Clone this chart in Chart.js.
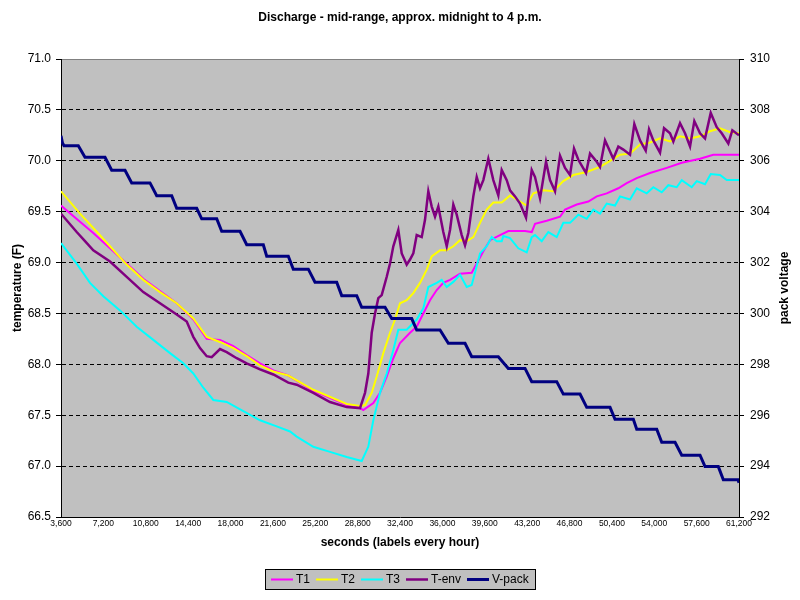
<!DOCTYPE html>
<html>
<head>
<meta charset="utf-8">
<script src="https://cdn.jsdelivr.net/npm/chart.js@4/dist/chart.umd.min.js"></script>
<style>
  html, body { margin: 0; padding: 0; background: #fff; }
  #c { display: block; }
</style>
</head>
<body>
<canvas id="c" width="800" height="600"></canvas>
<script>
// ---------------- DATA ----------------
const chartTitle = 'Discharge - mid-range, approx. midnight to 4 p.m.';
const xTitle = 'seconds (labels every hour)';
const yLeftTitle = 'temperature (F)';
const yRightTitle = 'pack voltage';
const seriesNames = ['T1', 'T2', 'T3', 'T-env', 'V-pack'];

const t1Sec = [3600, 5214, 6344, 7763, 9182, 10592, 12011, 13430, 14840, 15979, 17109, 18239, 19377, 20507, 21637, 22911, 25035, 27873, 29003, 29283, 30133, 30701, 31272, 31832, 32401, 33251, 33820, 34381, 34950, 35520, 36080, 36649, 37499, 38493, 38918, 39479, 40048, 40897, 41603, 43021, 43591, 43871, 44865, 45995, 46420, 47414, 48399, 49113, 49963, 50948, 51662, 52511, 53641, 55060, 56335, 57889, 59019, 61200];
const t1Val = [69.56, 69.40, 69.29, 69.14, 68.99, 68.84, 68.72, 68.60, 68.44, 68.25, 68.24, 68.18, 68.09, 68.01, 67.94, 67.89, 67.74, 67.60, 67.57, 67.55, 67.62, 67.72, 67.88, 68.06, 68.21, 68.31, 68.37, 68.50, 68.63, 68.73, 68.80, 68.83, 68.89, 68.90, 68.99, 69.11, 69.22, 69.27, 69.31, 69.31, 69.30, 69.38, 69.41, 69.45, 69.52, 69.57, 69.60, 69.65, 69.68, 69.73, 69.78, 69.83, 69.88, 69.93, 69.98, 70.02, 70.06, 70.06];

const t2Sec = [3600, 5214, 6344, 7763, 9182, 10592, 12011, 13430, 14840, 15979, 17109, 18239, 19377, 20507, 21637, 22911, 25035, 27873, 29003, 29428, 29997, 30422, 30983, 31552, 31977, 32401, 32970, 33531, 34101, 34670, 35095, 35800, 36369, 36930, 37499, 38068, 38629, 39198, 39768, 40328, 41042, 41747, 42597, 43166, 43726, 44576, 45426, 46275, 47125, 48263, 49393, 50243, 51093, 51942, 52792, 53641, 54491, 55341, 56190, 57040, 57889, 58739, 59589, 60438, 61200];
const t2Val = [69.70, 69.48, 69.34, 69.16, 68.98, 68.83, 68.71, 68.60, 68.45, 68.27, 68.22, 68.16, 68.08, 67.99, 67.93, 67.89, 67.75, 67.61, 67.59, 67.60, 67.72, 67.88, 68.11, 68.31, 68.44, 68.60, 68.63, 68.70, 68.80, 68.93, 69.06, 69.12, 69.12, 69.16, 69.22, 69.21, 69.25, 69.39, 69.52, 69.59, 69.59, 69.66, 69.60, 69.56, 69.68, 69.71, 69.70, 69.80, 69.86, 69.89, 69.94, 70.00, 70.06, 70.07, 70.16, 70.18, 70.22, 70.19, 70.24, 70.22, 70.24, 70.29, 70.32, 70.28, 70.27];

const t3Sec = [3600, 4934, 6064, 7194, 8613, 10031, 11442, 12861, 13991, 14840, 15690, 16539, 17678, 19088, 20507, 21926, 23056, 23625, 25035, 26454, 27873, 29147, 29708, 30133, 30701, 31272, 31832, 32257, 32970, 33820, 34381, 34806, 35520, 35944, 36369, 36930, 37499, 38068, 38493, 39198, 39768, 40192, 40617, 41042, 41178, 41747, 42452, 43166, 43591, 43871, 44440, 45001, 45715, 46275, 46845, 47550, 48263, 48824, 49393, 49963, 50668, 51093, 51942, 52511, 53361, 53922, 54635, 55196, 55910, 56335, 57184, 57609, 58314, 58798, 59589, 60158, 61200];
const t3Val = [69.19, 68.99, 68.80, 68.67, 68.53, 68.37, 68.24, 68.11, 68.01, 67.91, 67.77, 67.65, 67.63, 67.54, 67.45, 67.39, 67.34, 67.29, 67.19, 67.14, 67.09, 67.05, 67.19, 67.45, 67.72, 67.91, 68.14, 68.34, 68.34, 68.44, 68.55, 68.76, 68.80, 68.83, 68.76, 68.81, 68.88, 68.76, 68.78, 69.09, 69.16, 69.25, 69.21, 69.21, 69.26, 69.24, 69.14, 69.10, 69.25, 69.27, 69.21, 69.30, 69.25, 69.39, 69.39, 69.47, 69.43, 69.52, 69.48, 69.58, 69.56, 69.65, 69.62, 69.73, 69.68, 69.74, 69.69, 69.76, 69.74, 69.81, 69.74, 69.80, 69.77, 69.87, 69.86, 69.81, 69.81];

const tEnvSec = [3600, 4934, 5639, 6344, 7763, 9182, 10592, 12011, 13430, 14280, 14840, 15409, 15979, 16403, 17109, 17678, 18528, 19377, 20507, 21637, 22911, 23625, 25035, 26454, 27873, 29003, 29428, 29708, 29997, 30277, 30558, 30847, 31272, 31552, 31832, 32257, 32546, 32970, 33251, 33531, 33820, 34245, 34525, 34806, 35095, 35375, 35655, 36080, 36369, 36649, 36930, 37218, 37643, 37924, 38204, 38629, 38918, 39198, 39479, 39903, 40328, 40753, 41042, 41467, 41747, 42172, 42597, 43106, 43591, 43871, 44296, 44806, 45145, 45570, 45995, 46420, 46845, 47184, 47550, 48204, 48544, 49113, 49393, 49818, 50523, 50948, 51373, 51942, 52308, 52792, 53276, 53556, 53922, 54491, 54831, 55341, 55621, 56190, 56615, 57040, 57405, 57889, 58314, 58798, 59308, 59733, 60294, 60634, 61200];
const tEnvVal = [69.48, 69.30, 69.21, 69.12, 69.01, 68.86, 68.71, 68.60, 68.49, 68.42, 68.27, 68.16, 68.08, 68.07, 68.15, 68.12, 68.06, 68.01, 67.95, 67.90, 67.82, 67.80, 67.72, 67.63, 67.58, 67.57, 67.72, 67.91, 68.31, 68.50, 68.65, 68.68, 68.86, 68.99, 69.16, 69.32, 69.09, 68.98, 69.03, 69.09, 69.27, 69.25, 69.42, 69.70, 69.55, 69.45, 69.55, 69.30, 69.16, 69.32, 69.57, 69.47, 69.27, 69.17, 69.29, 69.65, 69.84, 69.73, 69.81, 70.02, 69.81, 69.66, 69.91, 69.81, 69.71, 69.65, 69.58, 69.44, 69.91, 69.84, 69.63, 69.99, 69.81, 69.70, 70.05, 69.93, 69.86, 70.12, 70.01, 69.88, 70.07, 69.99, 69.94, 70.20, 70.02, 70.14, 70.11, 70.06, 70.36, 70.20, 70.10, 70.31, 70.20, 70.08, 70.32, 70.27, 70.19, 70.37, 70.27, 70.14, 70.39, 70.27, 70.22, 70.47, 70.33, 70.27, 70.17, 70.30, 70.25];

const vPackSec = [3600, 3727, 3855, 5070, 5639, 7338, 7907, 9037, 9607, 11161, 11731, 13005, 13430, 15129, 15554, 16828, 17253, 18808, 19377, 20787, 21076, 22911, 23336, 24611, 25180, 27023, 27448, 28723, 29147, 31127, 31696, 33395, 33820, 35800, 36505, 37924, 38493, 40753, 41602, 43021, 43591, 45715, 46275, 47694, 48263, 50243, 50668, 52223, 52511, 54211, 54635, 55765, 56335, 57889, 58314, 59444, 59869, 61118, 61200];
const vPackVal = [306.98, 306.70, 306.59, 306.59, 306.14, 306.14, 305.63, 305.63, 305.13, 305.13, 304.63, 304.63, 304.13, 304.13, 303.72, 303.72, 303.23, 303.23, 302.70, 302.70, 302.25, 302.25, 301.74, 301.74, 301.23, 301.23, 300.70, 300.70, 300.24, 300.24, 299.80, 299.80, 299.35, 299.35, 298.83, 298.83, 298.30, 298.30, 297.84, 297.84, 297.32, 297.32, 296.83, 296.83, 296.31, 296.31, 295.84, 295.84, 295.45, 295.45, 294.94, 294.94, 294.43, 294.43, 293.98, 293.98, 293.46, 293.46, 293.35];

const xMin = 3600, xMax = 61200, xStep = 3600;
const yLeftMin = 66.5, yLeftMax = 71.0, yLeftStep = 0.5;
const yRightMin = 292, yRightMax = 310, yRightStep = 2;

// ---------------- CHART ----------------
const FONT = '"Liberation Sans", Arial, sans-serif';
Chart.defaults.font.family = FONT;
Chart.defaults.color = '#000';

function pts(xs, ys) { return xs.map((x, i) => ({ x: x, y: ys[i] })); }

const bgPlugin = {
  id: 'plotBg',
  beforeDraw(chart) {
    const { ctx, chartArea: a } = chart;
    ctx.save();
    ctx.fillStyle = '#ffffff';
    ctx.fillRect(0, 0, chart.width, chart.height);
    ctx.fillStyle = '#C0C0C0';
    ctx.fillRect(a.left, a.top, a.right - a.left, a.bottom - a.top);
    ctx.strokeStyle = '#808080';
    ctx.lineWidth = 1;
    ctx.beginPath();
    ctx.moveTo(a.left, a.top + 0.5);
    ctx.lineTo(a.right, a.top + 0.5);
    ctx.stroke();
    ctx.restore();
  }
};

// Secondary axis title, rotated to read bottom-to-top like the primary one
const rightTitlePlugin = {
  id: 'rightTitle',
  afterDraw(chart) {
    const { ctx, chartArea: a } = chart;
    ctx.save();
    ctx.translate(785, (a.top + a.bottom) / 2);
    ctx.rotate(-Math.PI / 2);
    ctx.font = 'bold 12px ' + FONT;
    ctx.fillStyle = '#000';
    ctx.textAlign = 'center';
    ctx.textBaseline = 'middle';
    ctx.fillText(yRightTitle, 0, 0);
    ctx.restore();
  }
};

const legendPlugin = {
  id: 'boxLegend',
  afterDraw(chart) {
    const ctx = chart.ctx;
    const ds = chart.data.datasets;
    ctx.save();
    ctx.font = '12px ' + FONT;
    const lineW = 22, gap = 3, itemGap = 6, pad = 6;
    const widths = ds.map(d => ctx.measureText(d.label).width);
    let total = pad * 2;
    widths.forEach((w, i) => { total += lineW + gap + w + (i < ds.length - 1 ? itemGap : 0); });
    total = Math.round(total);
    const x0 = Math.round(400 - total / 2), y0 = 569, h = 20;
    ctx.fillStyle = '#C0C0C0';
    ctx.fillRect(x0, y0, total, h);
    ctx.strokeStyle = '#000';
    ctx.lineWidth = 1;
    ctx.strokeRect(x0 + 0.5, y0 + 0.5, total, h);
    let x = x0 + pad;
    const yc = y0 + h / 2 + 0.5;
    ds.forEach((d, i) => {
      ctx.strokeStyle = d.borderColor;
      ctx.lineWidth = d.borderWidth;
      ctx.beginPath();
      ctx.moveTo(x, yc);
      ctx.lineTo(x + lineW, yc);
      ctx.stroke();
      ctx.fillStyle = '#000';
      ctx.textBaseline = 'middle';
      ctx.textAlign = 'left';
      ctx.fillText(d.label, x + lineW + gap, yc);
      x += lineW + gap + widths[i] + itemGap;
    });
    ctx.restore();
  }
};

const common = { pointRadius: 0, pointHoverRadius: 0, tension: 0, fill: false };

new Chart(document.getElementById('c'), {
  type: 'line',
  data: {
    datasets: [
      Object.assign({ label: seriesNames[0], data: pts(t1Sec, t1Val), borderColor: '#FF00FF', borderWidth: 2, yAxisID: 'y', order: 5 }, common),
      Object.assign({ label: seriesNames[1], data: pts(t2Sec, t2Val), borderColor: '#FFFF00', borderWidth: 2, yAxisID: 'y', order: 4 }, common),
      Object.assign({ label: seriesNames[2], data: pts(t3Sec, t3Val), borderColor: '#00FFFF', borderWidth: 2, yAxisID: 'y', order: 3 }, common),
      Object.assign({ label: seriesNames[3], data: pts(tEnvSec, tEnvVal), borderColor: '#800080', borderWidth: 2.5, yAxisID: 'y', order: 2 }, common),
      Object.assign({ label: seriesNames[4], data: pts(vPackSec, vPackVal), borderColor: '#000080', borderWidth: 3, yAxisID: 'y2', order: 1 }, common)
    ]
  },
  options: {
    responsive: false,
    animation: false,
    devicePixelRatio: 1,
    parsing: false,
    layout: { padding: 0 },
    plugins: {
      legend: { display: false },
      tooltip: { enabled: false },
      title: {
        display: true,
        text: chartTitle,
        color: '#000',
        font: { family: FONT, size: 12, weight: 'bold' },
        padding: { top: 10, bottom: 34.6 }
      }
    },
    scales: {
      x: {
        type: 'linear',
        position: 'bottom',
        min: xMin, max: xMax,
        afterFit(s) { s.height = 83; },
        grid: { display: false, drawTicks: false },
        border: { display: true, color: '#000', width: 1 },
        ticks: {
          stepSize: xStep,
          autoSkip: false,
          maxRotation: 0,
          padding: 2,
          color: '#000',
          font: { family: '"Liberation Sans Narrow", "Arial Narrow", "Liberation Sans", Arial, sans-serif', size: 8.5 },
          callback: v => v.toLocaleString('en-US')
        },
        title: {
          display: true,
          text: xTitle,
          color: '#000',
          font: { family: FONT, size: 12, weight: 'bold' },
          padding: { top: 0, bottom: 50 }
        }
      },
      y: {
        type: 'linear',
        position: 'left',
        min: yLeftMin, max: yLeftMax,
        afterFit(s) { s.width = 61; },
        grid: {
          color: c => (c.index === 0 || (c.tick && c.tick.value === yLeftMax)) ? 'rgba(0,0,0,0)' : '#000',
          tickColor: '#000',
          tickLength: 5,
          lineWidth: 1,
          drawOnChartArea: true
        },
        border: { display: true, color: '#000', width: 1, dash: [4, 3] },
        ticks: {
          stepSize: yLeftStep,
          padding: 5,
          color: '#000',
          font: { family: FONT, size: 12 },
          callback: v => Number(v).toFixed(1)
        },
        title: {
          display: true,
          text: yLeftTitle,
          color: '#000',
          font: { family: FONT, size: 12, weight: 'bold' },
          padding: { top: 10.8, bottom: 0 }
        }
      },
      y2: {
        type: 'linear',
        position: 'right',
        min: yRightMin, max: yRightMax,
        afterFit(s) { s.width = 61; },
        grid: { drawOnChartArea: false, tickColor: '#000', tickLength: 5, color: '#000' },
        border: { display: true, color: '#000', width: 1 },
        ticks: {
          stepSize: yRightStep,
          padding: 6,
          color: '#000',
          font: { family: FONT, size: 12 },
          callback: v => String(v)
        },
        title: { display: false, text: yRightTitle }
      }
    }
  },
  plugins: [bgPlugin, rightTitlePlugin, legendPlugin]
});
</script>
</body>
</html>
